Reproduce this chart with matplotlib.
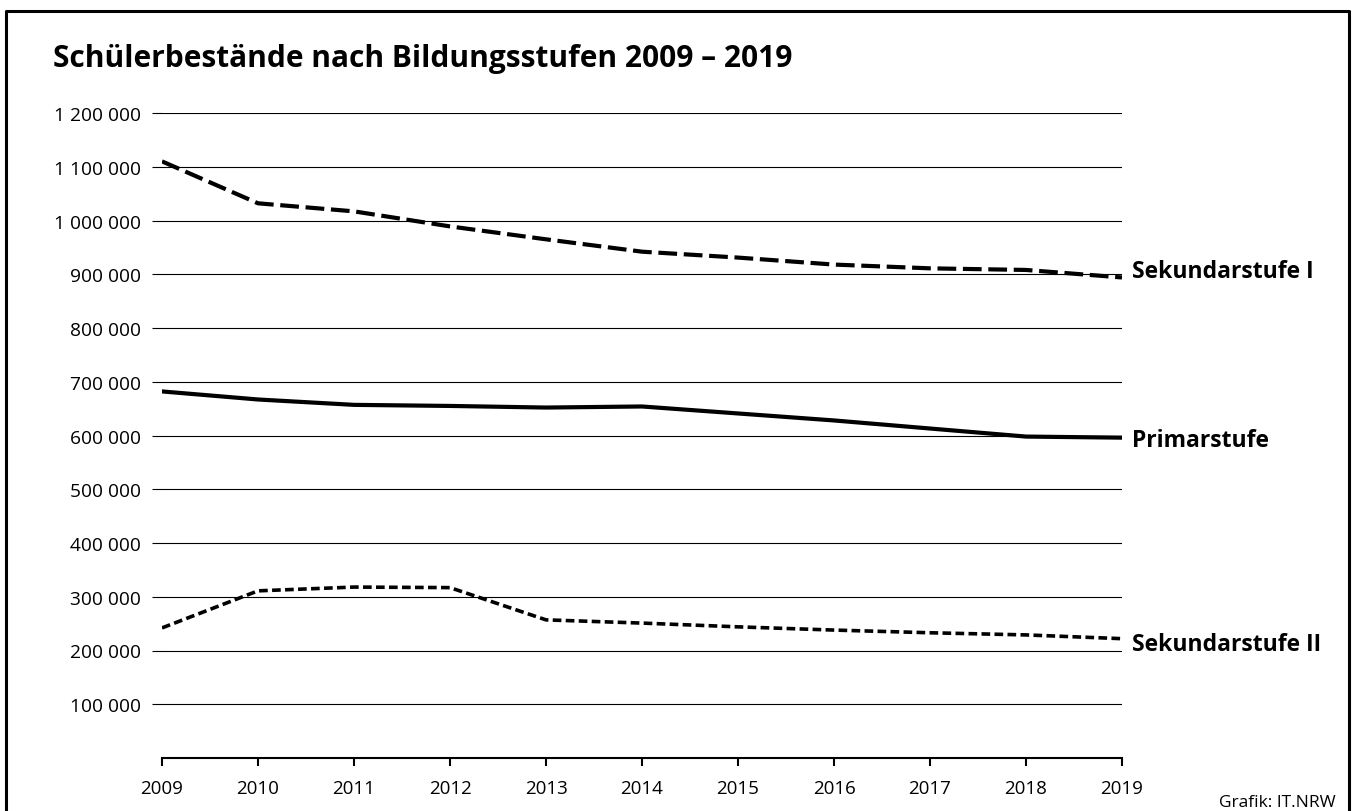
import matplotlib
matplotlib.use("Agg")
import matplotlib.pyplot as plt
from matplotlib.lines import Line2D
from matplotlib.ticker import FuncFormatter

plt.rcParams['font.family'] = ['Open Sans', 'DejaVu Sans']

years = [2009, 2010, 2011, 2012, 2013, 2014, 2015, 2016, 2017, 2018, 2019]
sek1 = [1110000, 1032000, 1017000, 989000, 965000, 942000, 931000, 918000, 911000, 908000, 894000]
primar = [682000, 667000, 657000, 655000, 652000, 654000, 641000, 628000, 613000, 598000, 596000]
sek2 = [242000, 311000, 318000, 317000, 257000, 251000, 244000, 238000, 233000, 229000, 222000]
yticks = list(range(100000, 1200001, 100000))

W, H = 1354, 812
fig = plt.figure(figsize=(W / 100, H / 100), dpi=100)
ax = fig.add_axes([162 / W, 1 - 759 / H, (1122 - 162) / W, (759 - 114) / H])

ax.set_xlim(2009, 2019)
ax.set_ylim(0, 1200000)

for y in yticks:
    ax.axhline(y, color='black', lw=0.8, zorder=1)

ax.plot(years, sek1, color='black', lw=3, dashes=(4.5, 1.6), zorder=3)
ax.plot(years, primar, color='black', lw=3, zorder=3)
ax.plot(years, sek2, color='black', lw=2.6, dashes=(2.4, 1.2), zorder=3)

for s in ['top', 'right', 'left']:
    ax.spines[s].set_visible(False)
ax.spines['bottom'].set_linewidth(1.5)

ax.set_xticks(years)
ax.set_yticks(yticks)
ax.yaxis.set_major_formatter(FuncFormatter(lambda v, p: f"{int(v):,}".replace(",", " ")))
ax.tick_params(axis='x', direction='out', length=6, width=1.5, pad=9, labelsize=13.5)
ax.tick_params(axis='y', direction='out', length=7, width=0.8, pad=8, labelsize=13.8)

lab = dict(fontsize=16.5, fontweight='bold', va='center', ha='left')
ax.annotate('Sekundarstufe I', (2019, sek1[-1]), xytext=(7, 5), textcoords='offset points', **lab)
ax.annotate('Primarstufe', (2019, primar[-1]), xytext=(7, -2), textcoords='offset points', **lab)
ax.annotate('Sekundarstufe II', (2019, sek2[-1]), xytext=(7, -4), textcoords='offset points', **lab)

fig.text(53 / W, 1 - 59 / H, 'Schülerbestände nach Bildungsstufen 2009 – 2019',
         fontsize=21.5, fontweight='bold', va='center', ha='left')
fig.text(1336 / W, 1 - 803 / H, 'Grafik: IT.NRW', fontsize=12.5, ha='right', va='center')

# frame around the graphic (no bottom edge)
fig.add_artist(Line2D([6 / W, 6 / W, 1349 / W, 1349 / W], [0, 1 - 12 / H, 1 - 12 / H, 0],
                      color='black', lw=2.2, transform=fig.transFigure))

fig.savefig('out.png', dpi=100)
